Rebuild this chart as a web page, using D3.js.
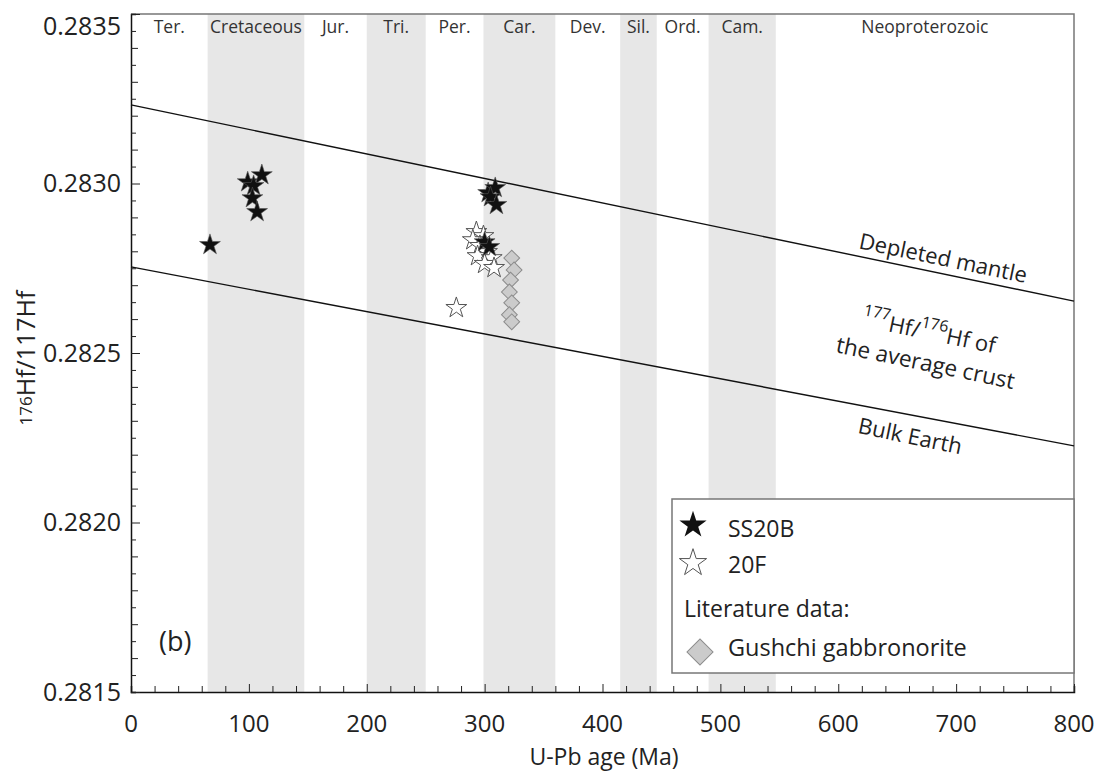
<!DOCTYPE html>
<html>
<head>
<meta charset="utf-8">
<script src="https://cdn.jsdelivr.net/npm/d3@7"></script>
<style>
  body { margin: 0; background: #fff; }
  svg { display: block; font-family: "Open Sans", sans-serif; fill: #222; }
</style>
</head>
<body>
<svg id="chart" width="1102" height="772"></svg>
<script>
// geological periods (Ma)
const periodNames = ["Ter.", "Cretaceous", "Jur.", "Tri.", "Per.", "Car.", "Dev.", "Sil.", "Ord.", "Cam.", "Neoproterozoic"];
const periodStart = [0, 65, 147, 200, 250, 299, 360, 415, 446, 490, 547];
const periodEnd = [65, 147, 200, 250, 299, 360, 415, 446, 490, 547, 800];
const periodShaded = [false, true, false, true, false, true, false, true, false, true, false];

// SS20B (filled stars)
const ss20bAge = [67, 99, 111, 104, 103, 107, 303, 309, 305, 310, 300, 304];
const ss20bHf = [0.282819, 0.283004, 0.283025, 0.282993, 0.282957, 0.282916, 0.282972, 0.282987, 0.282960, 0.282937, 0.282827, 0.282813];

// 20F (open stars)
const f20Age = [293, 299, 290, 296, 302, 294, 306, 300, 308, 276];
const f20Hf = [0.282857, 0.282845, 0.282833, 0.282816, 0.282798, 0.282786, 0.282780, 0.282763, 0.282751, 0.282633];

// Gushchi gabbronorite (literature)
const gushAge = [323, 325, 322, 321, 323, 321, 323];
const gushHf = [0.282780, 0.282745, 0.282715, 0.282680, 0.282648, 0.282613, 0.282592];

// reference evolution lines
const lineAge = [0, 800];
const depletedMantle = [0.283232, 0.282653];
const bulkEarth = [0.282754, 0.282226];

const xTicks = [0, 100, 200, 300, 400, 500, 600, 700, 800];
const yTicks = [0.2815, 0.2820, 0.2825, 0.2830, 0.2835];

const svg = d3.select("#chart");
const plotLeft = 131, plotRight = 1074, plotTop = 14, plotBottom = 692;

const x = d3.scaleLinear().domain([0, 800]).range([plotLeft, plotRight]);
const y = d3.scaleLinear().domain([0.2815, 0.2835]).range([plotBottom, plotTop]);

// period bands
const periods = periodNames.map((name, i) => ({ name, start: periodStart[i], end: periodEnd[i], shaded: periodShaded[i] }));

svg.append("g").selectAll("rect")
  .data(periods.filter(d => d.shaded))
  .join("rect")
  .attr("x", d => x(d.start))
  .attr("y", plotTop)
  .attr("width", d => x(d.end) - x(d.start))
  .attr("height", plotBottom - plotTop)
  .attr("fill", "#e7e7e7");

svg.append("g").selectAll("text")
  .data(periods)
  .join("text")
  .attr("x", d => x((d.start + d.end) / 2))
  .attr("y", 33)
  .attr("text-anchor", "middle")
  .attr("font-size", 17.5)
  .attr("fill", "#333")
  .text(d => d.name);

// frame (top/right)
svg.append("path")
  .attr("d", `M${plotLeft},${plotTop}H${plotRight}V${plotBottom}`)
  .attr("fill", "none")
  .attr("stroke", "#777")
  .attr("stroke-width", 1.5);

// evolution lines
const line = d3.line().x(d => x(d[0])).y(d => y(d[1]));
[depletedMantle, bulkEarth].forEach(vals => {
  svg.append("path")
    .datum(lineAge.map((a, i) => [a, vals[i]]))
    .attr("d", line)
    .attr("fill", "none")
    .attr("stroke", "#111")
    .attr("stroke-width", 1.4);
});

const angle = Math.atan2(y(depletedMantle[1]) - y(depletedMantle[0]), x(800) - x(0)) * 180 / Math.PI;

function lineLabel(age, hf, parts, size) {
  const t = svg.append("text")
    .attr("transform", `translate(${x(age)},${y(hf)}) rotate(${angle})`)
    .attr("text-anchor", "middle")
    .attr("dy", "0.35em")
    .attr("font-size", size)
    .attr("fill", "#222");
  parts.forEach(p => {
    const s = t.append("tspan").text(p.text);
    if (p.sup) s.attr("font-size", size * 0.72).attr("baseline-shift", "super");
  });
}

lineLabel(689, 0.282780, [{ text: "Depleted mantle" }], 22);
lineLabel(677, 0.282562, [{ text: "177", sup: true }, { text: "Hf/" }, { text: "176", sup: true }, { text: "Hf of" }], 22);
lineLabel(674, 0.282471, [{ text: "the average crust" }], 22.5);
lineLabel(661, 0.282255, [{ text: "Bulk Earth" }], 22);

// axes
const xAxis = svg.append("g")
  .attr("transform", `translate(0,${plotBottom})`)
  .call(d3.axisBottom(x).tickValues(d3.range(0, 801, 20)).tickSize(-6).tickPadding(0).tickFormat(""));
xAxis.selectAll(".tick line").attr("y2", d => d % 100 === 0 ? -8 : -6).attr("stroke", "#222");
xAxis.select(".domain").attr("stroke", "#111").attr("stroke-width", 1.5);

svg.append("g").selectAll("text")
  .data(xTicks)
  .join("text")
  .attr("x", d => x(d))
  .attr("y", 732)
  .attr("text-anchor", "middle")
  .attr("font-size", 24)
  .attr("fill", "#222")
  .text(d => d);

const yAxis = svg.append("g")
  .attr("transform", `translate(${plotLeft},0)`)
  .call(d3.axisLeft(y).tickValues(d3.range(0, 41).map(i => 0.2815 + i * 0.00005)).tickSize(-5).tickFormat(""));
yAxis.selectAll(".tick line").attr("x2", (d, i) => i % 10 === 0 ? 9 : (i % 2 === 0 ? 7 : 5)).attr("stroke", "#222");
yAxis.select(".domain").attr("stroke", "#111").attr("stroke-width", 1.5);

svg.append("g").selectAll("text")
  .data(yTicks)
  .join("text")
  .attr("x", 121)
  .attr("y", d => y(d) + (d === 0.2835 ? 12 : 0))
  .attr("dy", "0.35em")
  .attr("text-anchor", "end")
  .attr("font-size", 25)
  .attr("fill", "#222")
  .text(d => d.toFixed(4));

svg.append("text")
  .attr("x", 604)
  .attr("y", 765)
  .attr("text-anchor", "middle")
  .attr("font-size", 23)
  .attr("fill", "#222")
  .text("U-Pb age (Ma)");

const yTitle = svg.append("text")
  .attr("transform", "translate(35,358) rotate(-90)")
  .attr("text-anchor", "middle")
  .attr("font-size", 25)
  .attr("fill", "#222");
yTitle.append("tspan").attr("font-size", 17).attr("dy", -3).text("176");
yTitle.append("tspan").attr("dy", 3).text("Hf/117Hf");

svg.append("text")
  .attr("x", 159)
  .attr("y", 651)
  .attr("font-size", 27)
  .attr("fill", "#222")
  .text("(b)");

// data marks
const star = d3.symbol(d3.symbolStar);
const square = d3.symbol(d3.symbolSquare);

svg.append("g").selectAll("path")
  .data(gushAge.map((a, i) => [a, gushHf[i]]))
  .join("path")
  .attr("transform", d => `translate(${x(d[0])},${y(d[1])}) rotate(45)`)
  .attr("d", square.size(125)())
  .attr("fill", "#cbcbcb")
  .attr("stroke", "#8c8c8c")
  .attr("stroke-width", 1);

svg.append("g").selectAll("path")
  .data(f20Age.map((a, i) => [a, f20Hf[i]]))
  .join("path")
  .attr("transform", d => `translate(${x(d[0])},${y(d[1])})`)
  .attr("d", star.size(135)())
  .attr("fill", "#fff")
  .attr("stroke", "#555")
  .attr("stroke-width", 1);

svg.append("g").selectAll("path")
  .data(ss20bAge.map((a, i) => [a, ss20bHf[i]]))
  .join("path")
  .attr("transform", d => `translate(${x(d[0])},${y(d[1])})`)
  .attr("d", star.size(135)())
  .attr("fill", "#111")
  .attr("stroke", "#555")
  .attr("stroke-width", 0.6);

// legend
const legend = svg.append("g");
legend.append("rect")
  .attr("x", 672).attr("y", 499)
  .attr("width", 402).attr("height", 174)
  .attr("fill", "#fff")
  .attr("stroke", "#777")
  .attr("stroke-width", 1.5);

legend.append("path")
  .attr("transform", "translate(693,525)")
  .attr("d", star.size(230)())
  .attr("fill", "#111");
legend.append("text").attr("x", 728).attr("y", 537).attr("font-size", 23).attr("fill", "#222").text("SS20B");

legend.append("path")
  .attr("transform", "translate(693,563)")
  .attr("d", star.size(230)())
  .attr("fill", "#fff")
  .attr("stroke", "#555")
  .attr("stroke-width", 1);
legend.append("text").attr("x", 728).attr("y", 573).attr("font-size", 23).attr("fill", "#222").text("20F");

legend.append("text").attr("x", 684).attr("y", 617).attr("font-size", 23).attr("fill", "#222").text("Literature data:");

legend.append("path")
  .attr("transform", "translate(700,652) rotate(45)")
  .attr("d", square.size(340)())
  .attr("fill", "#cbcbcb")
  .attr("stroke", "#8c8c8c")
  .attr("stroke-width", 1);
legend.append("text").attr("x", 728).attr("y", 656).attr("font-size", 23.5).attr("fill", "#222").text("Gushchi gabbronorite");
</script>
</body>
</html>
